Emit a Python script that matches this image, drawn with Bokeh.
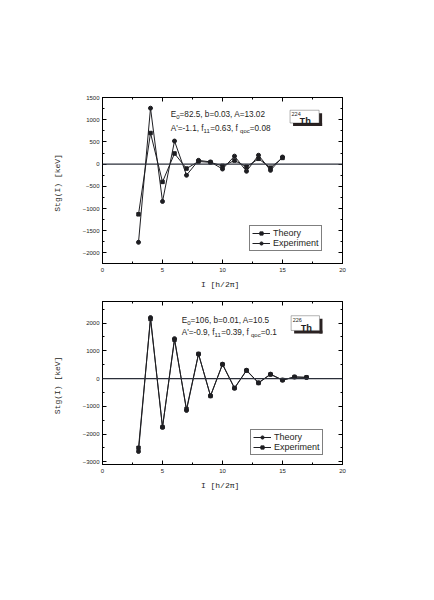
from bokeh.plotting import figure
from bokeh.models import Span, Label, BoxAnnotation, LinearAxis, Legend, LegendItem, FixedTicker, Range1d
from bokeh.layouts import column
from bokeh.embed import file_html
from bokeh.resources import INLINE

# ---------------- data ----------------
spins_224 = [3, 4, 5, 6, 7, 8, 9, 10, 11, 12, 13, 14, 15]
theory_224 = [-1130, 700, -400, 240, -100, 60, 40, -40, 80, -60, 120, -80, 140]
experiment_224 = [-1760, 1260, -840, 520, -250, 85, 50, -110, 180, -160, 200, -140, 160]

spins_226 = [3, 4, 5, 6, 7, 8, 9, 10, 11, 12, 13, 14, 15, 16, 17]
theory_226 = [-2630, 2200, -1760, 1440, -1150, 880, -620, 520, -350, 300, -150, 160, -60, 60, 40]
experiment_226 = [-2500, 2150, -1750, 1400, -1100, 890, -630, 510, -340, 290, -160, 150, -50, 55, 45]

x_ticks = [0, 5, 10, 15, 20]
y_ticks_224 = [-2000, -1500, -1000, -500, 0, 500, 1000, 1500]
y_ticks_226 = [-3000, -2000, -1000, 0, 1000, 2000]

params_224_line1 = [("E", "n"), ("0", "s"), ("=82.5, b=0.03, A=13.02", "n")]
params_224_line2 = [("A'=-1.1, f", "n"), ("11", "s"), ("=0.63,  f", "n"), ("qoc", "s"), ("=0.08", "n")]
params_226_line1 = [("E", "n"), ("0", "s"), ("=106, b=0.01, A=10.5", "n")]
params_226_line2 = [("A'=-0.9, f", "n"), ("11", "s"), ("=0.39,  f", "n"), ("qoc", "s"), ("=0.1", "n")]

# ---------------- helpers ----------------
W = {' ': 278, "'": 191, ',': 278, '-': 333, '.': 278, '=': 584, 'A': 667, 'E': 667,
     'b': 556, 'f': 278, 'c': 500, 'o': 556, 'q': 556}
for d in "0123456789":
    W[d] = 556

SANS = "Liberation Sans"
MONO = "Liberation Mono"
INK = "#1e1e22"
NORMAL = 8.2
SUB = 6.0


def width(s, size):
    return sum(W.get(c, 556) for c in s) * size / 1000.0


def rich_text(p, x, y, pieces):
    off = 0.0
    for txt, kind in pieces:
        size = NORMAL if kind == "n" else SUB
        p.add_layout(Label(x=x, y=y, x_offset=off, y_offset=(0 if kind == "n" else -2.5),
                           text=txt, text_font=SANS, text_font_size=f"{size}px",
                           text_baseline="middle", text_align="left", text_color=INK))
        off += width(txt, size)


def nucleus_box(p, left, right, top, bottom, dx, dy, mass):
    # drop shadow as two strips outside the box (right and bottom)
    p.add_layout(BoxAnnotation(left=right, right=right + dx, top=top - dy, bottom=bottom - dy,
                               fill_color="#2a2222", fill_alpha=1, line_color=None))
    p.add_layout(BoxAnnotation(left=left + dx, right=right + dx, top=bottom, bottom=bottom - dy,
                               fill_color="#2a2222", fill_alpha=1, line_color=None))
    p.add_layout(BoxAnnotation(left=left, right=right, top=top, bottom=bottom,
                               fill_color="white", fill_alpha=1, line_color="black", line_width=1))
    p.add_layout(Label(x=left, y=top, x_offset=1.5, y_offset=-2, text=mass, text_font=SANS,
                       text_font_size="5.5px", text_baseline="top", text_color=INK))
    p.add_layout(Label(x=left, y=bottom, x_offset=9.5, y_offset=1.5, text="Th", text_font=MONO,
                       text_font_style="bold", text_font_size="9.5px", text_baseline="alphabetic",
                       text_color=INK))


def make_fig(y_range, y_ticks, border_top, border_bottom, border_left, border_right, fh):
    p = figure(frame_width=240, frame_height=fh, x_range=Range1d(0, 20), y_range=Range1d(*y_range),
               output_backend="svg", toolbar_location=None,
               min_border_top=border_top, min_border_bottom=border_bottom,
               min_border_left=border_left, min_border_right=border_right,
               background_fill_color="white", border_fill_color="white")
    p.grid.visible = False
    p.outline_line_color = "black"
    p.outline_line_width = 1
    x_minor = [i * 2.5 for i in range(9)]
    y_minor = [t + s for t in y_ticks for s in (0, (y_ticks[1] - y_ticks[0]) / 2)]
    p.xaxis.ticker = FixedTicker(ticks=x_ticks, minor_ticks=x_minor)
    p.yaxis.ticker = FixedTicker(ticks=y_ticks, minor_ticks=y_minor)
    for ax in (p.xaxis[0], p.yaxis[0]):
        ax.major_tick_in = 4
        ax.major_tick_out = 0
        ax.minor_tick_in = 2
        ax.minor_tick_out = 0
        ax.major_label_text_font = SANS
        ax.major_label_text_font_size = "6px"
        ax.major_label_text_color = INK
        ax.axis_line_color = "black"
        ax.major_tick_line_color = "black"
        ax.minor_tick_line_color = "black"
        ax.axis_label_text_font = MONO
        ax.axis_label_text_font_size = "8px"
        ax.axis_label_text_font_style = "normal"
        ax.axis_label_text_color = INK
    p.xaxis.major_label_standoff = 4
    p.xaxis.axis_label_standoff = 5
    p.yaxis.major_label_standoff = 3
    p.yaxis.axis_label_standoff = 18
    p.xaxis.axis_label = "I  [h/2\u03c0]"
    p.yaxis.axis_label = "Stg(I)  [keV]"
    # mirrored axes (ticks only, empty labels)
    top = LinearAxis(ticker=FixedTicker(ticks=x_ticks, minor_ticks=x_minor),
                     major_label_overrides={t: "" for t in x_ticks})
    right = LinearAxis(ticker=FixedTicker(ticks=y_ticks, minor_ticks=y_minor),
                       major_label_overrides={t: "" for t in y_ticks})
    for ax in (top, right):
        ax.major_tick_in = 4
        ax.major_tick_out = 0
        ax.minor_tick_in = 2
        ax.minor_tick_out = 0
        ax.major_label_text_font_size = "6px"
        ax.major_label_standoff = 0
        ax.axis_line_color = "black"
    p.add_layout(top, "above")
    p.add_layout(right, "right")
    p.add_layout(Span(location=0, dimension="width", line_color="#2b2f3a", line_width=1.2))
    return p


def style_legend(leg, loc):
    leg.location = loc
    leg.border_line_color = "black"
    leg.border_line_width = 1
    leg.background_fill_color = "white"
    leg.background_fill_alpha = 1
    leg.label_text_font = SANS
    leg.label_text_font_size = "9px"
    leg.label_text_color = INK
    leg.glyph_width = 18
    leg.glyph_height = 8
    leg.label_height = 8
    leg.label_standoff = 3
    leg.padding = 2
    leg.spacing = 0
    leg.margin = 0


# ---------------- top plot: 224Th ----------------
p1 = make_fig((-2237, 1500), y_ticks_224, 97, 32, 102, 84, 166)
l_th1 = p1.line(spins_224, theory_224, line_color=INK, line_width=1)
s_th1 = p1.scatter(spins_224, theory_224, marker="square", size=3.5, color=INK)
l_ex1 = p1.line(spins_224, experiment_224, line_color=INK, line_width=1)
s_ex1 = p1.scatter(spins_224, experiment_224, marker="circle", size=4, color=INK)
rich_text(p1, 5.69, 1123, params_224_line1)
rich_text(p1, 5.69, 813, params_224_line2)
nucleus_box(p1, 15.63, 18.05, 1213, 926, 0.25, 68, "224")
leg1 = Legend(items=[LegendItem(label="Theory", renderers=[l_th1, s_th1]),
                     LegendItem(label="Experiment", renderers=[l_ex1, s_ex1])])
style_legend(leg1, (147, 12))
p1.add_layout(leg1)

# ---------------- bottom plot: 226Th ----------------
p2 = make_fig((-3100, 2780), y_ticks_226, 6, 60, 101, 85, 163)
l_th2 = p2.line(spins_226, theory_226, line_color=INK, line_width=1)
s_th2 = p2.scatter(spins_226, theory_226, marker="circle", size=4, color=INK)
l_ex2 = p2.line(spins_226, experiment_226, line_color=INK, line_width=1)
s_ex2 = p2.scatter(spins_226, experiment_226, marker="square", size=3.5, color=INK)
rich_text(p2, 6.6, 2096, params_226_line1)
rich_text(p2, 6.6, 1662, params_226_line2)
nucleus_box(p2, 15.72, 18.08, 2266, 1735, 0.25, 108, "226")
leg2 = Legend(items=[LegendItem(label="Theory", renderers=[l_th2, s_th2]),
                     LegendItem(label="Experiment", renderers=[l_ex2, s_ex2])])
style_legend(leg2, (148, 9))
p2.add_layout(leg2)

layout = column(p1, p2, spacing=0)
open("out.html", "w").write(file_html(layout, INLINE))
